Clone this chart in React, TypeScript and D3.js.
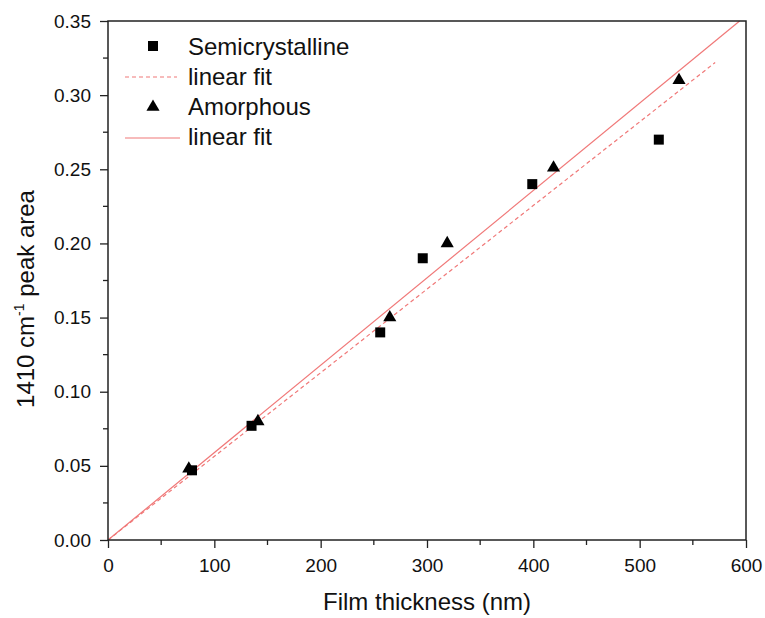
import React, { useEffect, useRef } from 'react';
import * as d3 from 'd3';

// Semicrystalline points
const semiX = [79, 135, 256, 296, 399, 518];
const semiY = [0.047, 0.077, 0.14, 0.19, 0.24, 0.27];
// Amorphous points
const amorX = [76, 141, 265, 319, 419, 537];
const amorY = [0.048, 0.08, 0.15, 0.2, 0.251, 0.31];
// linear fits (end points)
const semiFitX = [0, 571];
const semiFitY = [0, 0.322];
const amorFitX = [0, 594];
const amorFitY = [0, 0.35];

const xTicks = [0, 100, 200, 300, 400, 500, 600];
const xMinor = [50, 150, 250, 350, 450, 550];
const yTicks = [0, 0.05, 0.1, 0.15, 0.2, 0.25, 0.3, 0.35];
const yMinor = [0.025, 0.075, 0.125, 0.175, 0.225, 0.275, 0.325];
const legendLabels = ['Semicrystalline', 'linear fit', 'Amorphous', 'linear fit'];

const W = 765;
const H = 618;
const FONT = 'Liberation Sans, Arial, sans-serif';
const FIT = '#f07878';

export default function App() {
  const ref = useRef<SVGSVGElement>(null);

  useEffect(() => {
    const svg = d3.select(ref.current);
    svg.selectAll('*').remove();

    const m = { top: 21, right: 19, bottom: 78, left: 108 };
    const w = W - m.left - m.right;
    const h = H - m.top - m.bottom;

    const x = d3.scaleLinear().domain([0, 600]).range([0, w]);
    const y = d3.scaleLinear().domain([0, 0.35]).range([h, 0]);

    const g = svg.append('g').attr('transform', `translate(${m.left},${m.top})`);

    // fits
    const line = d3.line<[number, number]>().x(d => x(d[0])).y(d => y(d[1]));
    g.append('path')
      .datum(semiFitX.map((v, i) => [v, semiFitY[i]] as [number, number]))
      .attr('d', line)
      .attr('fill', 'none')
      .attr('stroke', FIT)
      .attr('stroke-width', 1.2)
      .attr('stroke-dasharray', '4,3');
    g.append('path')
      .datum(amorFitX.map((v, i) => [v, amorFitY[i]] as [number, number]))
      .attr('d', line)
      .attr('fill', 'none')
      .attr('stroke', FIT)
      .attr('stroke-width', 1.2);

    // points
    const sq = d3.symbol().type(d3.symbolSquare).size(100);
    const tri = d3.symbol().type(d3.symbolTriangle).size(75);
    g.selectAll('.semi')
      .data(semiX.map((v, i) => [v, semiY[i]]))
      .join('path')
      .attr('d', sq)
      .attr('transform', d => `translate(${x(d[0])},${y(d[1])})`)
      .attr('fill', '#000');
    g.selectAll('.amor')
      .data(amorX.map((v, i) => [v, amorY[i]]))
      .join('path')
      .attr('d', tri)
      .attr('transform', d => `translate(${x(d[0])},${y(d[1])})`)
      .attr('fill', '#000');

    // frame
    g.append('rect')
      .attr('width', w)
      .attr('height', h)
      .attr('fill', 'none')
      .attr('stroke', '#222')
      .attr('stroke-width', 1.5);

    // axes
    const xAxis = g.append('g')
      .attr('transform', `translate(0,${h})`)
      .call(d3.axisBottom(x).tickValues(xTicks).tickSize(8).tickPadding(11).tickFormat(d3.format('d')));
    xAxis.append('g').selectAll('line')
      .data(xMinor)
      .join('line')
      .attr('x1', d => x(d))
      .attr('x2', d => x(d))
      .attr('y2', 5)
      .attr('stroke', '#222');

    const yAxis = g.append('g')
      .call(d3.axisLeft(y).tickValues(yTicks).tickSize(8).tickPadding(9).tickFormat(d3.format('.2f')));
    yAxis.append('g').selectAll('line')
      .data(yMinor)
      .join('line')
      .attr('y1', d => y(d))
      .attr('y2', d => y(d))
      .attr('x2', -5)
      .attr('stroke', '#222');

    [xAxis, yAxis].forEach(a => {
      a.select('.domain').remove();
      a.selectAll('line').attr('stroke', '#222').attr('stroke-width', 1.3);
      a.selectAll('text').attr('font-family', FONT).attr('font-size', 19).attr('fill', '#111');
    });

    // axis titles
    svg.append('text')
      .attr('x', 427)
      .attr('y', 610)
      .attr('text-anchor', 'middle')
      .attr('font-family', FONT)
      .attr('font-size', 24)
      .attr('fill', '#111')
      .text('Film thickness (nm)');

    const yt = svg.append('text')
      .attr('transform', 'translate(34,299) rotate(-90)')
      .attr('text-anchor', 'middle')
      .attr('font-family', FONT)
      .attr('font-size', 24)
      .attr('fill', '#111');
    yt.append('tspan').text('1410 cm');
    yt.append('tspan').attr('font-size', 14).attr('dy', -10).text('-1');
    yt.append('tspan').attr('dy', 10).text(' peak area');

    // legend
    const lg = svg.append('g');
    const base = [55, 85, 115, 145];
    legendLabels.forEach((t, i) => {
      lg.append('text')
        .attr('x', 188)
        .attr('y', base[i])
        .attr('font-family', FONT)
        .attr('font-size', 24)
        .attr('fill', '#111')
        .text(t);
    });
    lg.append('path').attr('d', sq).attr('transform', 'translate(153,46)').attr('fill', '#000');
    lg.append('path').attr('d', tri).attr('transform', 'translate(153,107)').attr('fill', '#000');
    lg.append('line')
      .attr('x1', 125).attr('x2', 177).attr('y1', 77).attr('y2', 77)
      .attr('stroke', FIT).attr('stroke-width', 1.2).attr('stroke-dasharray', '4,3');
    lg.append('line')
      .attr('x1', 125).attr('x2', 180).attr('y1', 138).attr('y2', 138)
      .attr('stroke', FIT).attr('stroke-width', 1.2);
  }, []);

  return (
    <svg
      ref={ref}
      width={W}
      height={H}
      style={{ position: 'absolute', left: 0, top: 0, background: '#fff' }}
    />
  );
}
